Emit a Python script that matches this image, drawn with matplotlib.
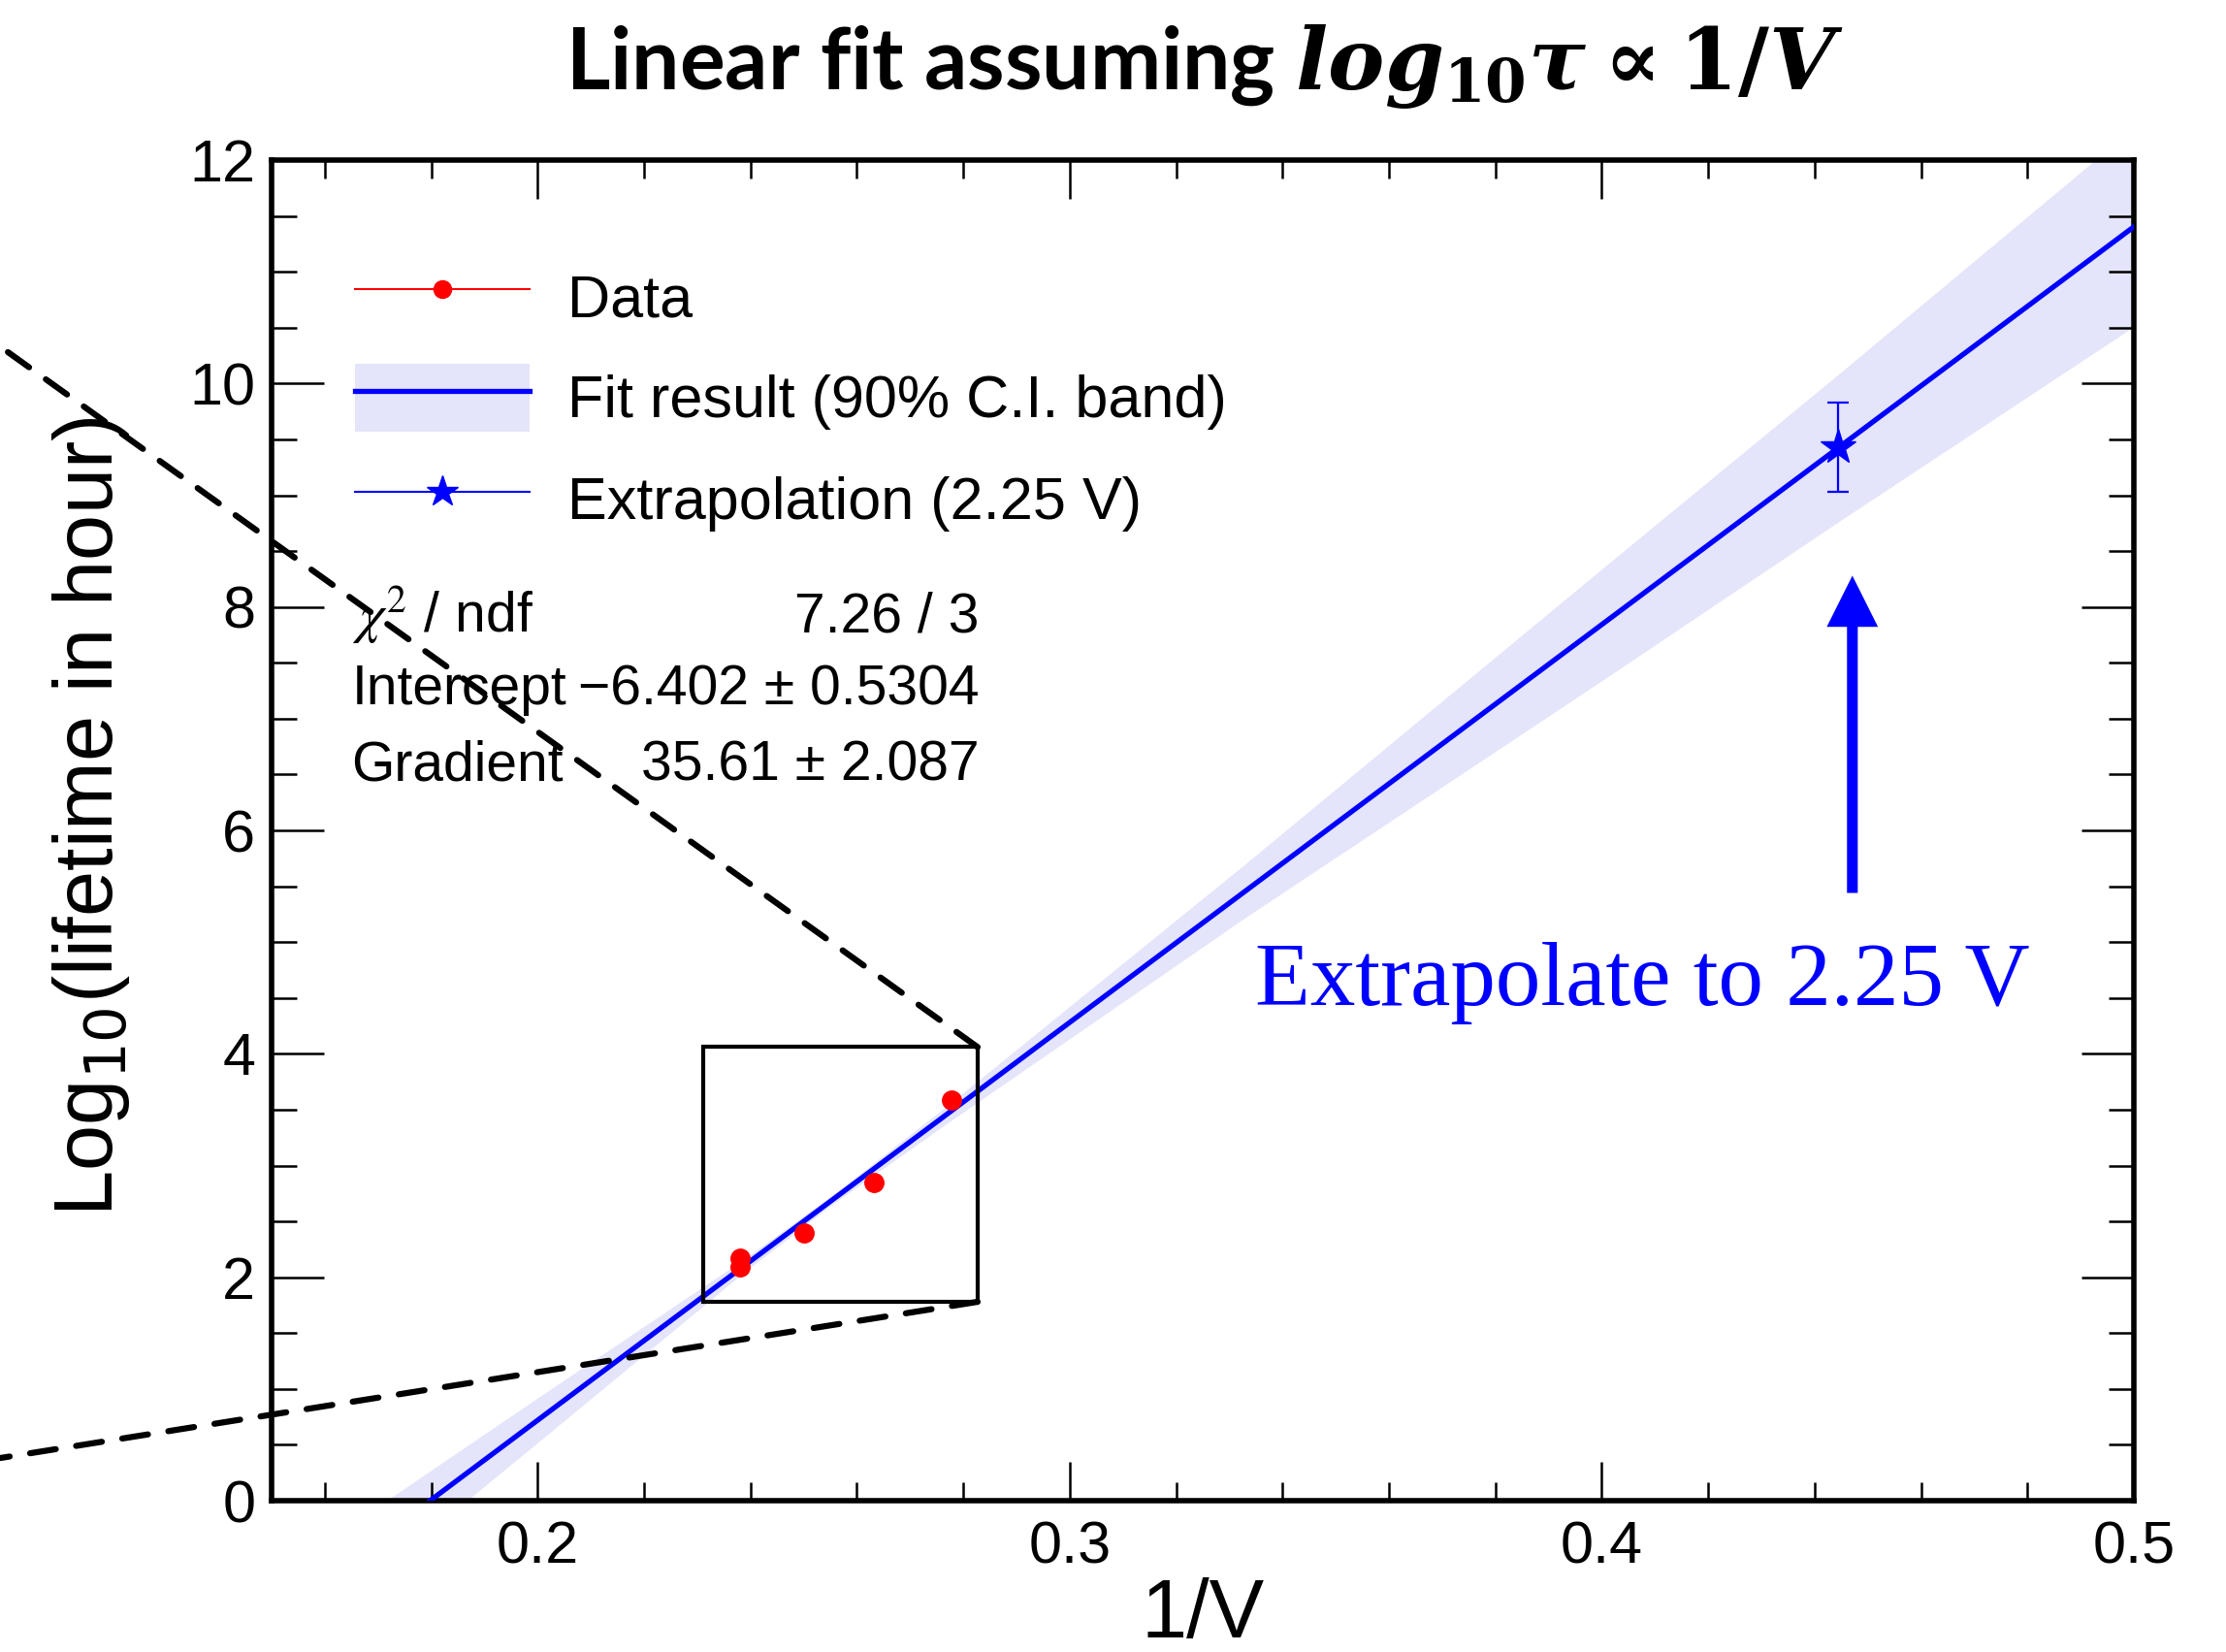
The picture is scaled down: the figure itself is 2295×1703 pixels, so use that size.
import numpy as np
import matplotlib
matplotlib.use('Agg')
import matplotlib.pyplot as plt
from matplotlib.patches import Rectangle, ConnectionPatch, Patch
from matplotlib.lines import Line2D
from matplotlib.ticker import MultipleLocator

plt.rcParams['font.family'] = ['Liberation Sans', 'DejaVu Sans']
# fuentes para la parte matemática del título (negrita cursiva con serifa)
plt.rcParams['mathtext.it'] = 'DejaVu Serif:italic:bold'
plt.rcParams['mathtext.rm'] = 'DejaVu Serif:bold'
plt.rcParams['mathtext.bf'] = 'DejaVu Serif:bold'

# --- DATOS MEDIDOS ---
voltaje = np.array([4.2, 4.2, 4.0, 3.8, 3.6])       # V
log_vida = np.array([2.17, 2.09, 2.40, 2.85, 3.59])  # log10(tiempo de vida en horas)

# --- RESULTADO DEL AJUSTE ---
intercepto, err_intercepto = -6.402, 0.5304
gradiente, err_gradiente = 35.61, 2.087
chi2, ndf = 7.26, 3

# banda de confianza 90%
banda_x = [0.170, 0.200, 0.2384, 0.255, 0.2776, 0.333, 0.400, 0.4444, 0.500]
banda_lo = [-0.65, 0.52, 2.03, 2.64, 3.40, 5.22, 7.34, 8.76, 10.51]
banda_hi = [-0.05, 0.92, 2.15, 2.72, 3.56, 5.70, 8.34, 10.08, 12.29]

# --- EXTRAPOLACIÓN ---
v_extra = 2.25
log_extra, err_extra = 9.43, 0.40
flecha_x = 0.4471
flecha_y = [5.44, 8.28]

# recuadro de la zona ampliada
zona_x = [0.2311, 0.2827]
zona_y = [1.78, 4.06]

fig = plt.figure(figsize=(22.95, 17.03), dpi=100)
ax = fig.add_axes([0.122, 0.0916, 0.8366, 0.8115])

# banda y recta del ajuste
ax.fill_between(banda_x, banda_lo, banda_hi, color='#e4e4fa', lw=0, zorder=1)
x0 = -intercepto / gradiente
xs = np.array([x0, 0.5])
ax.plot(xs, intercepto + gradiente * xs, color='blue', lw=3.8, zorder=3)

# puntos de datos
ax.plot(1 / voltaje, log_vida, 'o', color='red', ms=14, zorder=4)

# punto extrapolado
ax.errorbar(1 / v_extra, log_extra, yerr=err_extra, fmt='*', color='blue', ms=27,
            capsize=8, elinewidth=1.6, capthick=1.6, zorder=5)

# recuadro y líneas discontinuas hacia la ampliación (fuera del gráfico)
ax.add_patch(Rectangle((zona_x[0], zona_y[0]), zona_x[1] - zona_x[0], zona_y[1] - zona_y[0],
                       fill=False, ec='black', lw=3, zorder=6))
for esquina, destino in [((zona_x[1], zona_y[1]), (0.003, 0.7874)),
                         ((zona_x[1], zona_y[0]), (0.0, 0.1174))]:
    con = ConnectionPatch(xyA=esquina, coordsA='data', axesA=ax,
                          xyB=destino, coordsB='figure fraction',
                          color='black', lw=4.5, ls=(0, (4.3, 3.4)), zorder=7)
    fig.add_artist(con)

# flecha y texto de la extrapolación
ax.annotate('', xy=(flecha_x, flecha_y[1]), xytext=(flecha_x, flecha_y[0]),
            arrowprops=dict(arrowstyle='simple,head_length=1.0,head_width=1.0,tail_width=0.21',
                            color='blue', mutation_scale=38, shrinkA=0, shrinkB=0, lw=0))
ax.text(0.3348, 4.44, 'Extrapolate to 2.25 V', color='blue', fontsize=67,
        family='Liberation Serif', ha='left', va='baseline')

# leyenda
h_datos = Line2D([], [], color='red', lw=1.5, marker='o', ms=13)
h_ajuste = (Patch(facecolor='#e4e4fa', edgecolor='none'), Line2D([], [], color='blue', lw=3.8))
h_extra = Line2D([], [], color='blue', lw=1.5, marker='*', ms=24)
ax.legend([h_datos, h_ajuste, h_extra],
          ['Data', 'Fit result (90% C.I. band)', 'Extrapolation (2.25 V)'],
          loc='upper left', bbox_to_anchor=(0.0448, 0.9236), frameon=False, fontsize=44,
          borderpad=0, borderaxespad=0, handlelength=2.95, handleheight=1.4,
          handletextpad=0.64, labelspacing=0.55)

# cuadro de estadística
filas = [('$\\chi^2$ / ndf', f'{chi2:.2f} / {ndf}'),
         ('Intercept', f'{intercepto:.3f} ± {err_intercepto:.4f}'.replace('-', '−')),
         ('Gradient', f'{gradiente:.2f} ± {err_gradiente:.3f}')]
for (nombre, valor), y in zip(filas, [0.648, 0.594, 0.537]):
    ax.text(0.043, y, nombre, transform=ax.transAxes, fontsize=41, va='baseline',
            math_fontfamily='stix')
    ax.text(0.380, y, valor, transform=ax.transAxes, fontsize=41, va='baseline', ha='right')

# ejes
ax.set_xlim(0.15, 0.5)
ax.set_ylim(0, 12)
ax.xaxis.set_major_locator(MultipleLocator(0.1))
ax.xaxis.set_minor_locator(MultipleLocator(0.02))
ax.yaxis.set_major_locator(MultipleLocator(2))
ax.yaxis.set_minor_locator(MultipleLocator(0.5))
ax.set_xticks([0.2, 0.3, 0.4, 0.5])
ax.set_xticklabels(['0.2', '0.3', '0.4', '0.5'])
ax.tick_params(which='both', direction='in', top=True, right=True, width=1.8, labelsize=44)
ax.tick_params(axis='x', which='major', length=29, pad=15)
ax.tick_params(axis='x', which='minor', length=14)
ax.tick_params(axis='y', which='major', length=39, pad=12)
ax.tick_params(axis='y', which='minor', length=19)
for lado in ax.spines.values():
    lado.set_linewidth(4)

ax.set_xlabel('1/V', fontsize=61)
ax.xaxis.set_label_coords(0.5, -0.102)
ax.xaxis.label.set_va('baseline')
ax.set_ylabel('Log$_{10}$(lifetime in hour)', fontsize=61)
ax.yaxis.set_label_coords(-0.075, 0.51)

fig.text(0.541, 0.946, r'Linear fit assuming $log_{10}\tau \propto 1/V$', family='Lato',
         weight='bold', fontsize=63, ha='center', va='baseline', math_fontfamily='custom')

fig.savefig('out.png', dpi=100)
